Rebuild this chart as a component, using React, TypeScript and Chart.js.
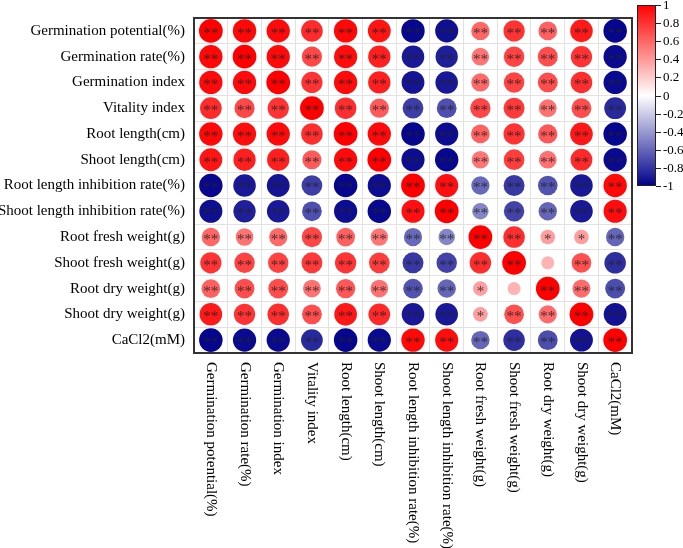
import { useEffect, useRef } from "react";
import { Chart, registerables } from "chart.js";

Chart.register(...registerables);

const variables = [
  "Germination potential(%)",
  "Germination rate(%)",
  "Germination index",
  "Vitality index",
  "Root length(cm)",
  "Shoot length(cm)",
  "Root length inhibition rate(%)",
  "Shoot length inhibition rate(%)",
  "Root fresh weight(g)",
  "Shoot fresh weight(g)",
  "Root dry weight(g)",
  "Shoot dry weight(g)",
  "CaCl2(mM)",
];

const rowGerminationPotential = [1, 0.97, 0.96, 0.83, 0.97, 0.92, -0.97, -0.94, 0.6, 0.8, 0.62, 0.9, -0.98];
const rowGerminationRate = [0.97, 1, 0.96, 0.72, 0.95, 0.88, -0.9, -0.88, 0.55, 0.74, 0.7, 0.8, -0.96];
const rowGerminationIndex = [0.96, 0.96, 1, 0.8, 0.96, 0.88, -0.92, -0.9, 0.59, 0.74, 0.7, 0.82, -0.96];
const rowVitalityIndex = [0.83, 0.72, 0.8, 1, 0.82, 0.65, -0.76, -0.69, 0.73, 0.78, 0.56, 0.7, -0.84];
const rowRootLength = [0.97, 0.95, 0.96, 0.82, 1, 0.96, -0.98, -0.95, 0.62, 0.8, 0.66, 0.91, -0.98];
const rowShootLength = [0.92, 0.88, 0.88, 0.65, 0.96, 1, -0.95, -0.97, 0.54, 0.76, 0.56, 0.84, -0.96];
const rowRootInhibition = [-0.97, -0.9, -0.92, -0.76, -0.98, -0.95, 1, 0.94, -0.59, -0.78, -0.68, -0.9, 0.97];
const rowShootInhibition = [-0.94, -0.88, -0.9, -0.69, -0.95, -0.97, 0.94, 1, -0.48, -0.74, -0.6, -0.9, 0.95];
const rowRootFresh = [0.6, 0.55, 0.59, 0.73, 0.62, 0.54, -0.59, -0.48, 1, 0.82, 0.38, 0.38, -0.6];
const rowShootFresh = [0.8, 0.74, 0.74, 0.78, 0.8, 0.76, -0.78, -0.74, 0.82, 1, 0.3, 0.69, -0.82];
const rowRootDry = [0.62, 0.7, 0.7, 0.56, 0.66, 0.56, -0.68, -0.6, 0.38, 0.3, 1, 0.58, -0.7];
const rowShootDry = [0.9, 0.8, 0.82, 0.7, 0.91, 0.84, -0.9, -0.9, 0.38, 0.69, 0.58, 1, -0.93];
const rowCaCl2 = [-0.98, -0.96, -0.96, -0.84, -0.98, -0.96, 0.97, 0.95, -0.6, -0.82, -0.7, -0.93, 1];

const correlationRows = [
  rowGerminationPotential,
  rowGerminationRate,
  rowGerminationIndex,
  rowVitalityIndex,
  rowRootLength,
  rowShootLength,
  rowRootInhibition,
  rowShootInhibition,
  rowRootFresh,
  rowShootFresh,
  rowRootDry,
  rowShootDry,
  rowCaCl2,
];

// |r| thresholds for "**" (p<0.01) and "*" (p<0.05)
const significanceThresholds = [0.45, 0.33];
const colorbarTicks = [1, 0.8, 0.6, 0.4, 0.2, 0, -0.2, -0.4, -0.6, -0.8, -1];

const SERIF = '"Liberation Serif", "Times New Roman", serif';

function colorFor(v: number): string {
  const t = Math.min(1, Math.abs(v));
  if (v >= 0) {
    const gb = Math.round(255 * (1 - t));
    return `rgb(255,${gb},${gb})`;
  }
  const rg = Math.round(255 * (1 - t));
  const b = Math.round(255 - (255 - 139) * t);
  return `rgb(${rg},${rg},${b})`;
}

function starsFor(v: number): string {
  const a = Math.abs(v);
  if (a >= significanceThresholds[0]) return "**";
  if (a >= significanceThresholds[1]) return "*";
  return "";
}

export default function App() {
  const canvasRef = useRef<HTMLCanvasElement | null>(null);

  useEffect(() => {
    const canvas = canvasRef.current;
    if (!canvas) return;

    const points = correlationRows.flatMap((row, i) =>
      row.map((v, j) => ({ x: variables[j], y: variables[i], v }))
    );

    const overlay = {
      id: "corrOverlay",
      afterDatasetsDraw(chart: any) {
        const ctx = chart.ctx;
        const meta = chart.getDatasetMeta(0);
        ctx.save();
        ctx.fillStyle = "rgba(35,35,35,0.85)";
        ctx.font = `15px ${SERIF}`;
        ctx.textAlign = "center";
        ctx.textBaseline = "middle";
        meta.data.forEach((el: any, k: number) => {
          const s = starsFor(points[k].v);
          if (s) ctx.fillText(s, el.x, el.y + 3);
        });
        ctx.restore();
      },
      afterDraw(chart: any) {
        const ctx = chart.ctx;
        const ca = chart.chartArea;
        const xs = chart.scales.x;
        ctx.save();
        // plot border
        ctx.strokeStyle = "#333";
        ctx.lineWidth = 2;
        ctx.strokeRect(ca.left, ca.top, ca.right - ca.left, ca.bottom - ca.top);

        // rotated x labels (reading top-to-bottom)
        ctx.fillStyle = "#000";
        ctx.font = `15px ${SERIF}`;
        ctx.textAlign = "left";
        ctx.textBaseline = "middle";
        variables.forEach((lab, i) => {
          const x = xs.getPixelForValue(i);
          ctx.save();
          ctx.translate(x, ca.bottom + 9);
          ctx.rotate(Math.PI / 2);
          ctx.fillText(lab, 0, 0);
          ctx.restore();
        });

        // colorbar
        const bx = ca.right + 5;
        const bw = 19;
        const by = 5;
        const bh = 181;
        const g = ctx.createLinearGradient(0, by, 0, by + bh);
        g.addColorStop(0, colorFor(1));
        g.addColorStop(0.5, colorFor(0));
        g.addColorStop(1, colorFor(-1));
        ctx.fillStyle = g;
        ctx.fillRect(bx, by, bw, bh);
        ctx.strokeStyle = "#222";
        ctx.lineWidth = 1;
        ctx.strokeRect(bx + 0.5, by + 0.5, bw - 1, bh - 1);
        ctx.font = `13px ${SERIF}`;
        ctx.fillStyle = "#000";
        ctx.textAlign = "left";
        ctx.textBaseline = "middle";
        colorbarTicks.forEach((t) => {
          const y = Math.round(by + ((1 - t) / 2) * bh) + 0.5;
          ctx.beginPath();
          ctx.moveTo(bx + bw, y);
          ctx.lineTo(bx + bw + 5, y);
          ctx.stroke();
          ctx.fillText(String(t), bx + bw + 7, y);
        });
        ctx.restore();
      },
    };

    const radiusFor = (c: any) => {
      const ca = c.chart.chartArea;
      if (!ca || !c.raw) return 0;
      const cellH = (ca.bottom - ca.top) / variables.length;
      return (cellH / 2 - 1) * Math.sqrt(Math.abs(c.raw.v));
    };

    const chart = new Chart(canvas, {
      type: "scatter",
      data: {
        datasets: [
          {
            data: points as any,
            pointRadius: radiusFor,
            pointHoverRadius: radiusFor,
            pointBorderWidth: 0,
            pointHoverBorderWidth: 0,
            pointBackgroundColor: (c: any) => (c.raw ? colorFor(c.raw.v) : "#fff"),
            pointHoverBackgroundColor: (c: any) => (c.raw ? colorFor(c.raw.v) : "#fff"),
            showLine: false,
          } as any,
        ],
      },
      options: {
        responsive: false,
        animation: false,
        events: [],
        layout: { padding: { top: 2, right: 51, left: 0, bottom: 0 } },
        plugins: {
          legend: { display: false },
          tooltip: { enabled: false },
        },
        scales: {
          x: {
            type: "category",
            labels: variables,
            offset: true,
            grid: { offset: true, color: "#e2e2e2", drawTicks: false },
            border: { display: false },
            ticks: { display: false },
            afterFit: (s: any) => {
              s.height = 195;
            },
          },
          y: {
            type: "category",
            labels: variables,
            offset: true,
            grid: { offset: true, color: "#e2e2e2", drawTicks: false },
            border: { display: false },
            ticks: {
              padding: 9,
              color: "#000",
              font: { family: SERIF, size: 15 },
            },
            afterFit: (s: any) => {
              s.width = 194;
            },
          },
        } as any,
      },
      plugins: [overlay],
    });

    return () => chart.destroy();
  }, []);

  return (
    <div style={{ position: "absolute", left: 0, top: 0, width: 683, height: 548, background: "#fff" }}>
      <canvas ref={canvasRef} width={683} height={548} />
    </div>
  );
}
